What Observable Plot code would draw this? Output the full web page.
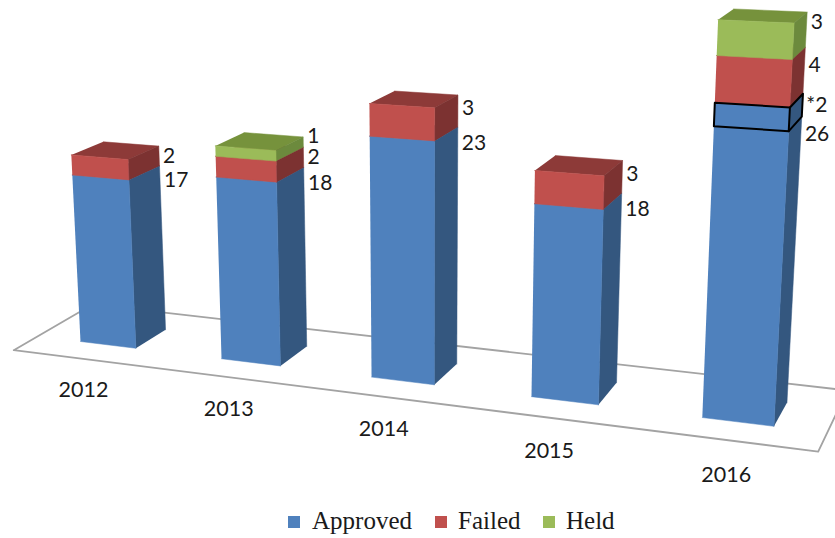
<!DOCTYPE html>
<html>
<head>
<meta charset="utf-8">
<script src="https://cdn.jsdelivr.net/npm/d3@7"></script>
<script src="https://cdn.jsdelivr.net/npm/@observablehq/plot@0.6"></script>
<style>
html,body{margin:0;padding:0;background:#fff;overflow:hidden}
#legend{position:relative;height:33px;font:25px "Liberation Serif",serif;color:#1a1a1a}
#legend span{position:absolute;white-space:nowrap}
#legend i{position:absolute;width:12px;height:12px;top:11px}
</style>
</head>
<body>
<div id="chart"></div>
<div id="legend"></div>
<script>
const years = ["2012","2013","2014","2015","2016"];
const approved = [17,18,23,18,26];
const approvedFlagged = [0,0,0,0,2];
const failed = [2,2,3,3,4];
const held = [0,1,0,0,3];

const WIDTH = 835, SVG_HEIGHT = 505;
const colors = {
  approved: {front:"#4F81BD", side:"#34577F", top:"#3F6797"},
  failed:   {front:"#C0504D", side:"#7C3231", top:"#8D3A38"},
  held:     {front:"#9BBB59", side:"#6C8A3D", top:"#76923C"}
};

// Perspective camera: category position u, value v, depth d -> picture plane
function project(u, v, d) {
  const w = 1 - 0.03*u - 0.00136*v + 0.029*d;
  return {
    x: (80 + 134.4*u - 0.579*v + 34.1*d) / w,
    y: (341 + 6.5*u - 10.03*v - 8.7*d) / w
  };
}
const BAR = 0.4;

function quad(id, fill, pts) {
  return pts.map(p => ({id, fill, ...project(...p)}));
}
function box(id, u, v0, v1, c) {
  const a = u, b = u + BAR;
  return [
    ...quad(id+"-top", c.top, [[a,v1,0],[b,v1,0],[b,v1,1],[a,v1,1]]),
    ...quad(id+"-side", c.side, [[b,v0,0],[b,v1,0],[b,v1,1],[b,v0,1]]),
    ...quad(id+"-front", c.front, [[a,v0,0],[b,v0,0],[b,v1,0],[a,v1,0]])
  ];
}

const polys = [], labels = [], outline = [];
years.forEach((year, i) => {
  let v = 0;
  const stack = [
    {key:"approved", value:approved[i], text:String(approved[i]), lv:t=>t-1.5},
    {key:"approved", value:approvedFlagged[i], text:"*"+approvedFlagged[i], flagged:true, lv:(t,b)=>(t+b)/2},
    {key:"failed", value:failed[i], text:String(failed[i]), lv:(t,b)=>(t+b)/2+0.25*(t-b-2)},
    {key:"held", value:held[i], text:String(held[i]), lv:(t,b)=>(t+b)/2+0.6}
  ];
  stack.forEach((s, j) => {
    if (!s.value) return;
    const v0 = v, v1 = v + s.value;
    polys.push(...box(year+"-"+j, i, v0, v1, colors[s.key]));
    if (s.flagged) {
      const a=i, b=i+BAR;
      outline.push(...quad("f1","none",[[a,v0,0],[b,v0,0],[b,v1,0],[a,v1,0],[a,v0,0]]));
      outline.push(...quad("f2","none",[[b,v0,0],[b,v0,1],[b,v1,1],[b,v1,0]]));
    }
    labels.push({text:s.text, ...project(i+BAR, s.lv(v1,v0), 1)});
    v = v1;
  });
});

const floor = [[-0.31,0,-0.74],[4.69,0,-0.74],[4.69,0,1.82],[-0.33,0,1.82],[-0.31,0,-0.74]]
  .map(p => project(...p));
const yearLabels = years.map((year,i) => ({text:year, ...project(i+0.2,-2.5,-0.9)}));

const plot = Plot.plot({
  width: WIDTH, height: SVG_HEIGHT,
  margin: 0,
  x: {domain:[0,WIDTH], range:[0,WIDTH], axis:null},
  y: {domain:[0,SVG_HEIGHT], range:[0,SVG_HEIGHT], axis:null},
  color: {type:"identity"},
  style: {background:"#fff", overflow:"hidden"},
  marks: [
    Plot.line(floor, {x:"x", y:"y", stroke:"#A3A3A3", strokeWidth:1.8, fill:"#fff"}),
    Plot.line(polys, {x:"x", y:"y", z:"id", fill:"fill", stroke:"fill", strokeWidth:0.5}),
    Plot.line(outline, {x:"x", y:"y", z:"id", stroke:"#000", strokeWidth:2, fill:"none"}),
    Plot.text(labels, {x:"x", y:"y", text:"text", dx:4, textAnchor:"start",
      fontFamily:"Lato", fontSize:21, fill:"#1a1a1a"}),
    Plot.text(yearLabels, {x:"x", y:"y", text:"text", dx:3, dy:3,
      fontFamily:"Lato", fontSize:21.5, fill:"#1a1a1a"})
  ]
});
document.getElementById("chart").appendChild(plot);
plot.style.display = "block";

const legendItems = [
  {name:"Approved", color:colors.approved.front, sx:288, tx:312},
  {name:"Failed", color:colors.failed.front, sx:435, tx:458},
  {name:"Held", color:colors.held.front, sx:543, tx:566}
];
const lg = d3.select("#legend");
legendItems.forEach(d => {
  lg.append("i").style("left", d.sx+"px").style("background", d.color);
  lg.append("span").style("left", d.tx+"px").style("top","2px").text(d.name);
});
</script>
</body>
</html>
